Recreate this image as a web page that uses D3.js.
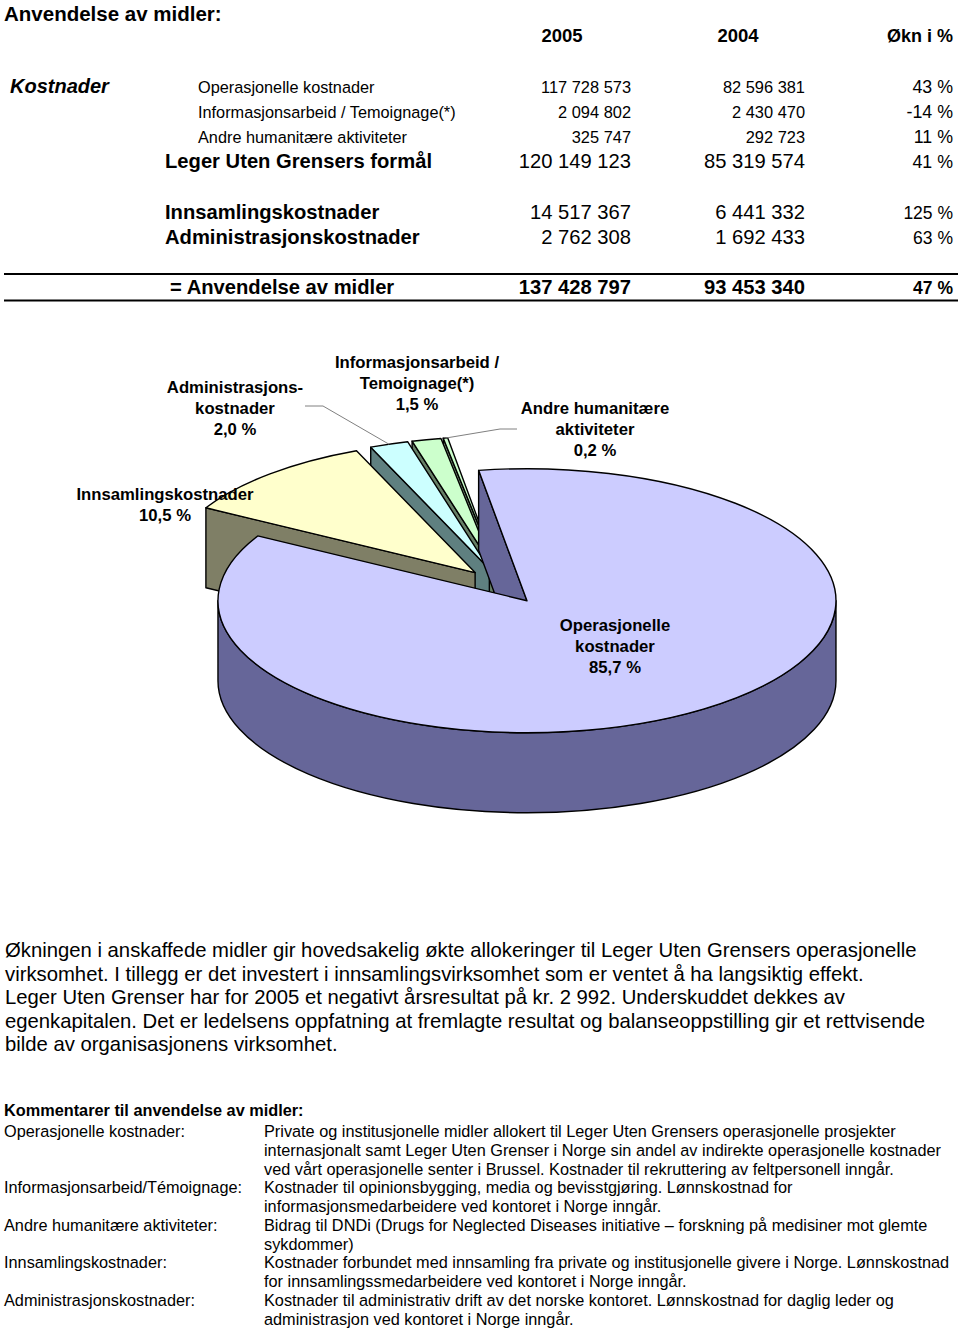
<!DOCTYPE html>
<html>
<head>
<meta charset="utf-8">
<script src="https://cdn.jsdelivr.net/npm/d3@7"></script>
<style>
  body { margin: 0; background: #fff; }
  svg { display: block; font-family: "Liberation Sans", Arial, sans-serif; }
</style>
</head>
<body>
<svg id="chart" width="960" height="1328"></svg>
<script>
// ---- table data ----
const years = ['2005', '2004'];
const costLabels = ['Operasjonelle kostnader', 'Informasjonsarbeid / Temoignage(*)', 'Andre humanitære aktiviteter'];
const cost2005 = [117728573, 2094802, 325747];
const cost2004 = [82596381, 2430470, 292723];
const purposeLabel = 'Leger Uten Grensers formål';
const purpose2005 = 120149123;
const purpose2004 = 85319574;
const otherLabels = ['Innsamlingskostnader', 'Administrasjonskostnader'];
const other2005 = [14517367, 2762308];
const other2004 = [6441332, 1692433];
const totalLabel = '= Anvendelse av midler';
const total2005 = 137428797;
const total2004 = 93453340;

// ---- pie data (clockwise from the top) ----
const pieCategories = ['Operasjonelle kostnader', 'Innsamlingskostnader', 'Administrasjonskostnader',
  'Informasjonsarbeid / Temoignage(*)', 'Andre humanitære aktiviteter'];
const pieValues = [117728573, 14517367, 2762308, 2094802, 325747];
const pieLabelLines = [['Operasjonelle', 'kostnader'], ['Innsamlingskostnader'], ['Administrasjons-', 'kostnader'],
  ['Informasjonsarbeid /', 'Temoignage(*)'], ['Andre humanitære', 'aktiviteter']];
const piePercents = ['85,7 %', '10,5 %', '2,0 %', '1,5 %', '0,2 %'];

const topColors = ['#ccccff', '#ffffcc', '#ccffff', '#ccffcc', '#ccffcc'];
const sideColors = ['#666699', '#7f7f66', '#5f8080', '#667f66', '#6f8a6f'];

const svg = d3.select('#chart');
const locale = d3.formatLocale({ decimal: ',', thousands: ' ', grouping: [3], currency: ['', ''] });
const fmt = locale.format(',d');
const growth = (a, b) => Math.round((a / b - 1) * 100) + ' %';

// ---- header ----
svg.append('text').attr('x', 4).attr('y', 21).style('font-size', '20.5px').style('font-weight', 'bold')
  .text('Anvendelse av midler:');

const colX = [631, 805, 953];
svg.append('text').attr('x', 562).attr('y', 42).attr('text-anchor', 'middle')
  .style('font-size', '18.5px').style('font-weight', 'bold').text(years[0]);
svg.append('text').attr('x', 738).attr('y', 42).attr('text-anchor', 'middle')
  .style('font-size', '18.5px').style('font-weight', 'bold').text(years[1]);
svg.append('text').attr('x', colX[2]).attr('y', 42).attr('text-anchor', 'end')
  .style('font-size', '18px').style('font-weight', 'bold').text('Økn i %');

svg.append('text').attr('x', 10).attr('y', 93).style('font-size', '20px')
  .style('font-weight', 'bold').style('font-style', 'italic').text('Kostnader');

function row(y, label, lx, v5, v4, o) {
  const g = svg.append('g');
  g.append('text').attr('x', lx).attr('y', y).style('font-size', o.labelSize)
    .style('font-weight', o.labelBold ? 'bold' : 'normal').text(label);
  g.append('text').attr('x', colX[0]).attr('y', y).attr('text-anchor', 'end')
    .style('font-size', o.numSize).style('font-weight', o.numBold ? 'bold' : 'normal').text(fmt(v5));
  g.append('text').attr('x', colX[1]).attr('y', y).attr('text-anchor', 'end')
    .style('font-size', o.numSize).style('font-weight', o.numBold ? 'bold' : 'normal').text(fmt(v4));
  g.append('text').attr('x', colX[2]).attr('y', y).attr('text-anchor', 'end')
    .style('font-size', o.pctSize).style('font-weight', o.numBold ? 'bold' : 'normal').text(growth(v5, v4));
}

const smallRows = [93, 118, 143];
costLabels.forEach((c, i) => row(smallRows[i], c, 198, cost2005[i], cost2004[i],
  { labelSize: '16.3px', numSize: '16.4px', pctSize: '17.8px' }));
row(168, purposeLabel, 165, purpose2005, purpose2004,
  { labelSize: '20.2px', labelBold: true, numSize: '20.2px', pctSize: '17.8px' });
const otherRows = [219, 244];
otherLabels.forEach((c, i) => row(otherRows[i], c, 165, other2005[i], other2004[i],
  { labelSize: '20.2px', labelBold: true, numSize: '20.2px', pctSize: '17.5px' }));
row(294, totalLabel, 170, total2005, total2004,
  { labelSize: '20.2px', labelBold: true, numSize: '20.2px', numBold: true, pctSize: '17.5px' });

[274, 300.5].forEach(y => svg.append('line').attr('x1', 4).attr('x2', 958).attr('y1', y).attr('y2', y)
  .attr('stroke', '#000').attr('stroke-width', 2.2));

// ---- exploded 3D pie ----
const cx = 503, cy = 586, rx = 309, ry = 132, depth = 80, explode = 42;
const k = ry / rx, D = depth / k;
const startA = -9 * Math.PI / 180;
const pie = d3.pie().sort(null).value(d => d).startAngle(startA).endAngle(startA + 2 * Math.PI);
const arcs = pie(pieValues).map((a, i) => {
  const mid = (a.startAngle + a.endAngle) / 2;
  return Object.assign(a, { i, mid, ox: explode * Math.sin(mid), oy: -explode * Math.cos(mid) });
});
const arcGen = d3.arc().innerRadius(0).outerRadius(rx);
const pt = (a, dy) => [rx * Math.sin(a), -rx * Math.cos(a) + dy];

const pieG = svg.append('g');
arcs.slice().sort((a, b) => Math.cos(b.mid) - Math.cos(a.mid)).forEach(a => {
  const g = pieG.append('g')
    .attr('transform', `translate(${cx + a.ox},${cy + k * a.oy}) scale(1,${k})`);
  const side = sideColors[a.i];
  const style = sel => sel.attr('fill', side).attr('stroke', '#000').attr('stroke-width', 1.4)
    .attr('stroke-linejoin', 'round').attr('vector-effect', 'non-scaling-stroke');

  // outer curved wall, front half only
  [-2 * Math.PI, 0, 2 * Math.PI].forEach(s => {
    const lo = Math.max(a.startAngle, Math.PI / 2 + s), hi = Math.min(a.endAngle, 1.5 * Math.PI + s);
    if (hi <= lo) return;
    const p = d3.path();
    p.moveTo(...pt(lo, 0));
    p.arc(0, 0, rx, lo - Math.PI / 2, hi - Math.PI / 2, false);
    p.lineTo(...pt(hi, D));
    p.arc(0, D, rx, hi - Math.PI / 2, lo - Math.PI / 2, true);
    p.closePath();
    g.append('path').attr('d', p.toString()).call(style);
  });
  // radial walls facing the viewer
  const wall = ang => {
    const p0 = pt(ang, 0), p1 = pt(ang, D);
    g.append('path').attr('d', `M0,0L${p0}L${p1}L0,${D}Z`).call(style);
  };
  if (Math.sin(a.startAngle) < 0) wall(a.startAngle);
  if (Math.sin(a.endAngle) > 0) wall(a.endAngle);
  // top face
  g.append('path').attr('d', arcGen(a)).attr('fill', topColors[a.i]).attr('stroke', '#000')
    .attr('stroke-width', 1.4).attr('stroke-linejoin', 'round').attr('vector-effect', 'non-scaling-stroke');
});

// rim point of a slice (screen coords)
const rimPoint = a => [cx + a.ox + rx * Math.sin(a.mid), cy + k * (a.oy - rx * Math.cos(a.mid))];

// leader lines
const leaders = [{ i: 2, from: [[305, 406], [323, 406]] }, { i: 4, from: [[517, 429], [500, 429]] }];
leaders.forEach(l => {
  const pts = l.from.concat([rimPoint(arcs[l.i])]);
  svg.append('path').attr('d', d3.line()(pts)).attr('fill', 'none')
    .attr('stroke', '#808080').attr('stroke-width', 1);
});

// slice labels
const labelPos = [[615, 625], [165, 494], [235, 387], [417, 362], [595, 408]];
arcs.forEach(a => {
  const lines = pieLabelLines[a.i].concat([piePercents[a.i]]);
  const t = svg.append('text').attr('text-anchor', 'middle')
    .style('font-size', '16.7px').style('font-weight', 'bold').attr('fill', '#000');
  lines.forEach((ln, j) => t.append('tspan').attr('x', labelPos[a.i][0])
    .attr('y', labelPos[a.i][1] + 6 + j * 21).text(ln));
});

// ---- paragraph ----
const para = [
  'Økningen i anskaffede midler gir hovedsakelig økte allokeringer til Leger Uten Grensers operasjonelle',
  'virksomhet. I tillegg er det investert i innsamlingsvirksomhet som er ventet å ha langsiktig effekt.',
  'Leger Uten Grenser har for 2005 et negativt årsresultat på kr. 2 992. Underskuddet dekkes av',
  'egenkapitalen. Det er ledelsens oppfatning at fremlagte resultat og balanseoppstilling gir et rettvisende',
  'bilde av organisasjonens virksomhet.'
];
para.forEach((ln, j) => svg.append('text').attr('x', 5).attr('y', 957 + j * 23.6)
  .style('font-size', '20.3px').text(ln));

// ---- comments ----
svg.append('text').attr('x', 4).attr('y', 1116).style('font-size', '16.3px').style('font-weight', 'bold')
  .text('Kommentarer til anvendelse av midler:');
const comments = [
  ['Operasjonelle kostnader:', ['Private og institusjonelle midler allokert til Leger Uten Grensers operasjonelle prosjekter',
    'internasjonalt samt Leger Uten Grenser i Norge sin andel av indirekte operasjonelle kostnader',
    'ved vårt operasjonelle senter i Brussel. Kostnader til rekruttering av feltpersonell inngår.']],
  ['Informasjonsarbeid/Témoignage:', ['Kostnader til opinionsbygging, media og bevisstgjøring. Lønnskostnad for',
    'informasjonsmedarbeidere ved kontoret i Norge inngår.']],
  ['Andre humanitære aktiviteter:', ['Bidrag til DNDi (Drugs for Neglected Diseases initiative – forskning på medisiner mot glemte',
    'sykdommer)']],
  ['Innsamlingskostnader:', ['Kostnader forbundet med innsamling fra private og institusjonelle givere i Norge. Lønnskostnad',
    'for innsamlingssmedarbeidere ved kontoret i Norge inngår.']],
  ['Administrasjonskostnader:', ['Kostnader til administrativ drift av det norske kontoret. Lønnskostnad for daglig leder og',
    'administrasjon ved kontoret i Norge inngår.']]
];
let line = 0;
comments.forEach(([lab, txt]) => {
  const y0 = 1137 + line * 18.75;
  svg.append('text').attr('x', 4).attr('y', y0).style('font-size', '16.3px').text(lab);
  txt.forEach((t, j) => svg.append('text').attr('x', 264).attr('y', y0 + j * 18.75)
    .style('font-size', '16.3px').text(t));
  line += txt.length;
});
</script>
</body>
</html>
